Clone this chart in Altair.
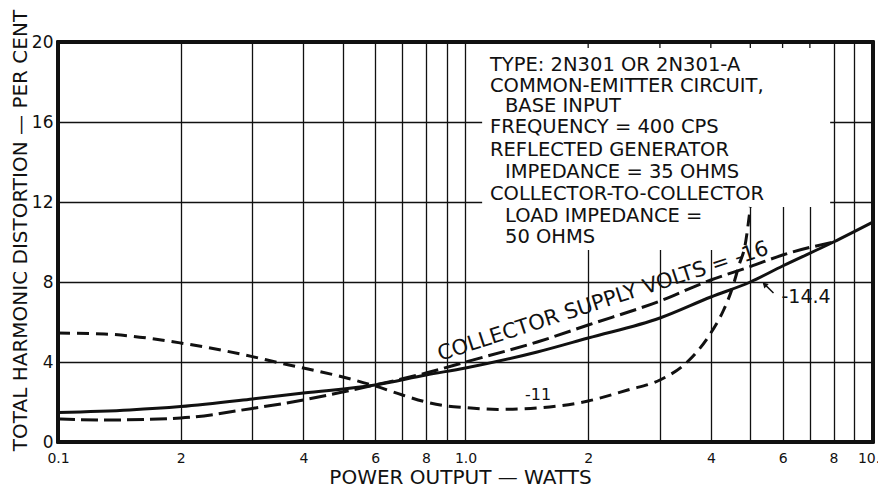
import altair as alt
import pandas as pd

# ---------------- data ----------------
# Collector supply volts = -14.4 (solid)
x_v144 = [0.1, 0.15, 0.2, 0.3, 0.4, 0.6, 0.8, 1.0, 1.5, 2.0, 3.0, 4.0, 5.0, 6.0, 8.0, 10.0]
y_v144 = [1.47, 1.6, 1.77, 2.15, 2.45, 2.85, 3.35, 3.7, 4.5, 5.2, 6.2, 7.25, 8.0, 8.8, 10.0, 11.0]

# Collector supply volts = -16 (long dashes)
x_v16 = [0.1, 0.13, 0.2, 0.3, 0.4, 0.5, 0.6, 0.8, 1.0, 1.5, 2.0, 3.0, 4.0, 5.0, 6.0, 8.0]
y_v16 = [1.15, 1.1, 1.2, 1.68, 2.1, 2.5, 2.85, 3.45, 4.0, 5.0, 5.85, 7.05, 8.1, 8.77, 9.35, 10.0]

# Collector supply volts = -11 (short dashes)
x_v11 = [0.1, 0.13, 0.2, 0.3, 0.35, 0.4, 0.5, 0.6, 0.7, 0.8, 0.9, 1.0, 1.2, 1.5, 2.0,
         2.5, 3.0, 3.5, 4.0, 4.3, 4.5, 4.7, 4.85, 5.0]
y_v11 = [5.45, 5.4, 4.95, 4.27, 3.95, 3.7, 3.25, 2.8, 2.35, 2.0, 1.8, 1.72, 1.63, 1.7, 2.05,
         2.6, 3.1, 4.0, 5.45, 6.6, 7.6, 8.9, 9.8, 11.75]

# axis ticks / labels
x_grid = [0.1, 0.2, 0.3, 0.4, 0.5, 0.6, 0.7, 0.8, 0.9, 1, 2, 3, 4, 5, 6, 7, 8, 9, 10]
x_label_vals = [0.1, 0.2, 0.4, 0.6, 0.8, 1, 2, 4, 6, 8, 10]
x_label_text = ["0.1", "2", "4", "6", "8", "1.0", "2", "4", "6", "8", "10.0"]
y_grid = [0, 2, 4, 6, 8, 10, 12, 14, 16, 18, 20]
top_stub_x = [2, 3, 4, 5, 6, 7]

x_title = "POWER OUTPUT — WATTS"
y_title = "TOTAL HARMONIC DISTORTION — PER CENT"

# legend / note box
note_lines = [
    "TYPE: 2N301 OR 2N301-A",
    "COMMON-EMITTER CIRCUIT,",
    "BASE INPUT",
    "FREQUENCY = 400 CPS",
    "REFLECTED GENERATOR",
    "IMPEDANCE = 35 OHMS",
    "COLLECTOR-TO-COLLECTOR",
    "LOAD IMPEDANCE =",
    "50 OHMS",
]
note_x = [1.148, 1.148, 1.25, 1.148, 1.148, 1.25, 1.148, 1.25, 1.25]
note_y = [18.57, 17.52, 16.52, 15.45, 14.3, 13.2, 12.1, 11.0, 9.97]

box_x1 = [1.1, 1.1]
box_x2 = [4.64, 7.85]
box_y1 = [9.6, 11.75]
box_y2 = [20, 20]

# ---------------- build chart ----------------
FONT = "DejaVu Sans"
XS = alt.Scale(type="log", domain=[0.1, 10])
YS = alt.Scale(domain=[0, 20])

expr = ""
for v, t in zip(x_label_vals, x_label_text):
    expr += f"datum.value == {v} ? '{t}' : "
expr += "''"

xa = alt.Axis(values=x_grid, labelExpr=expr, grid=True, gridColor="#111", gridWidth=1.3,
              gridOpacity=1, domain=False, ticks=False, tickSize=0, labelPadding=9,
              labelFont=FONT, labelFontSize=14, labelColor="#111", labelFlush=False,
              labelOverlap=False,
              title=x_title, titleFont=FONT, titleFontSize=20, titleFontWeight="normal",
              titleColor="#111", titleX=402, titleY=41, titleAlign="center",
              titleBaseline="alphabetic")
ya = alt.Axis(values=y_grid, labelExpr="datum.value % 4 == 0 ? datum.label : ''",
              grid=True, gridColor="#111", gridWidth=1.3, gridOpacity=1, domain=False,
              ticks=False, tickSize=0, labelPadding=5, labelFont=FONT, labelFontSize=17,
              labelColor="#111", labelFlush=False, labelOverlap=False,
              title=y_title, titleFont=FONT, titleFontSize=20, titleFontWeight="normal",
              titleColor="#111", titleAngle=270, titleX=-38, titleY=188,
              titleAlign="center", titleBaseline="middle")


def X(f):
    return alt.X(f, type="quantitative", scale=XS, axis=xa)


def Y(f):
    return alt.Y(f, type="quantitative", scale=YS, axis=ya)


df144 = pd.DataFrame({"x": x_v144, "y": y_v144})
df16 = pd.DataFrame({"x": x_v16, "y": y_v16})
df11 = pd.DataFrame({"x": x_v11, "y": y_v11})
dfbox = pd.DataFrame({"x": box_x1, "x2": box_x2, "y": box_y1, "y2": box_y2})
dfnote = pd.DataFrame({"x": note_x, "y": note_y, "t": note_lines})
dfstub = pd.DataFrame({"x": top_stub_x, "y": [20] * len(top_stub_x),
                       "y2": [19.7] * len(top_stub_x)})

box = alt.Chart(dfbox).mark_rect(fill="white", stroke=None).encode(
    x=X("x"), x2="x2", y=Y("y"), y2="y2")
stubs = alt.Chart(dfstub).mark_rule(color="#111", strokeWidth=1.3).encode(
    x=X("x"), y=Y("y"), y2="y2")

line144 = alt.Chart(df144).mark_line(color="#111", strokeWidth=3, interpolate="monotone").encode(
    x=X("x"), y=Y("y"))
line16 = alt.Chart(df16).mark_line(color="#111", strokeWidth=3, interpolate="monotone",
                                   strokeDash=[17, 6]).encode(x=X("x"), y=Y("y"))
line11 = alt.Chart(df11).mark_line(color="#111", strokeWidth=3, interpolate="monotone",
                                   strokeDash=[12, 7]).encode(x=X("x"), y=Y("y"))

notes = alt.Chart(dfnote).mark_text(font=FONT, fontSize=19.5, align="left", baseline="alphabetic",
                                    color="#111").encode(x=X("x"), y=Y("y"), text="t:N")

lab_df = pd.DataFrame({"x": [2.2], "y": [6.73], "t": ["COLLECTOR SUPPLY VOLTS = -16"]})
lab16 = alt.Chart(lab_df).mark_text(font=FONT, fontSize=21, align="center",
                                    baseline="alphabetic", angle=342, color="#111").encode(
    x=X("x"), y=Y("y"), text="t:N")

lab11_df = pd.DataFrame({"x": [1.507], "y": [2.35], "t": ["-11"]})
lab11 = alt.Chart(lab11_df).mark_text(font=FONT, fontSize=16, align="center",
                                      baseline="middle", color="#111").encode(
    x=X("x"), y=Y("y"), text="t:N")

lab144_df = pd.DataFrame({"x": [6.85], "y": [7.25], "t": ["-14.4"]})
lab144 = alt.Chart(lab144_df).mark_text(font=FONT, fontSize=19, align="center",
                                        baseline="middle", color="#111").encode(
    x=X("x"), y=Y("y"), text="t:N")

arrow_df = pd.DataFrame({"x": [5.7], "x2": [5.4], "y": [7.45], "y2": [7.92]})
arrow = alt.Chart(arrow_df).mark_rule(color="#111", strokeWidth=1.5).encode(
    x=X("x"), x2="x2", y=Y("y"), y2="y2")
head_df = pd.DataFrame({"x": [5.42], "y": [7.88]})
head = alt.Chart(head_df).mark_point(shape="triangle-up", angle=315, size=40, filled=True,
                                     color="#111", opacity=1).encode(x=X("x"), y=Y("y"))

border = alt.Chart(df144).mark_rect(fillOpacity=0, stroke="#111", strokeWidth=2.5).encode(
    x=alt.datum(0.1), x2=alt.datum(10), y=alt.datum(0), y2=alt.datum(20))

chart = alt.layer(box, stubs, line144, line16, line11, notes, lab16, lab11, lab144, arrow, head,
                  border).properties(
    width=815, height=400,
    autosize=alt.AutoSizeParams(type="none"),
    padding={"left": 50, "top": 34, "right": 5, "bottom": 42},
    background="white",
).configure_view(stroke=None)

chart.save("out.html", embed_options={"renderer": "svg", "actions": False})
